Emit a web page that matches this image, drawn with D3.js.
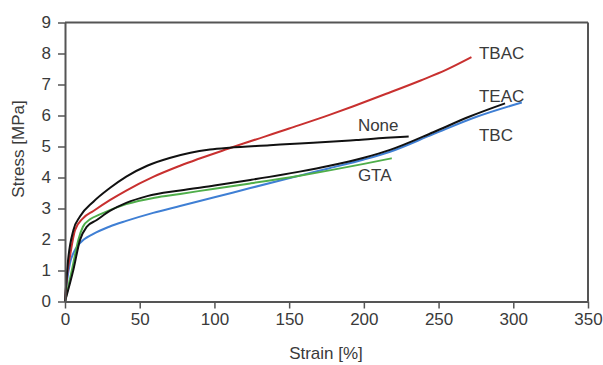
<!DOCTYPE html>
<html><head><meta charset="utf-8">
<script src="https://cdn.jsdelivr.net/npm/d3@7"></script>
<style>body{margin:0;background:#fff}svg{display:block}text{font-family:"Liberation Sans",Arial,sans-serif}</style>
</head><body>
<script>
const xTicks=[0,50,100,150,200,250,300,350];
const yTicks=[0,1,2,3,4,5,6,7,8,9];
const seriesNames=["TBC","GTA","TEAC","TBAC","None"];
const seriesColors=["#3f7fd4","#4fae4a","#111111","#c8302f","#111111"];
const tbc=[[0,0],[1.5,0.7],[3.3,1.23],[6,1.6],[10,1.88],[19,2.18],[30,2.42],[41,2.6],[59,2.86],[77,3.08],[100,3.36],[124,3.66],[157,4.06],[177,4.3],[200,4.58],[217.5,4.83],[246.5,5.4],[275,5.95],[305.7,6.42]];
const gta=[[0,0],[5,1.1],[9,2.0],[12,2.41],[17,2.66],[23,2.8],[41,3.14],[60,3.35],[77,3.47],[100,3.64],[124,3.81],[157,4.06],[177,4.23],[200,4.44],[218.7,4.62]];
const teac=[[0,0],[5.6,1.02],[10,1.98],[14.5,2.41],[21,2.62],[30,2.92],[41,3.18],[55,3.4],[77,3.58],[100,3.74],[124,3.92],[157,4.19],[177,4.38],[200,4.64],[217.5,4.89],[246.5,5.46],[270,5.95],[294.5,6.39]];
const tbac=[[0,0],[1.5,0.9],[3.3,1.45],[6.7,2.3],[12,2.68],[19,2.92],[30,3.27],[41,3.58],[59,4.02],[77,4.38],[113,4.99],[150,5.58],[177,6.02],[193,6.3],[215,6.7],[238,7.13],[255,7.47],[272,7.88]];
const none=[[0,0],[2,1.3],[5.6,2.3],[10,2.74],[19,3.22],[30,3.66],[41,4.03],[55,4.38],[70,4.63],[84,4.8],[97,4.9],[110,4.96],[137,5.04],[157,5.1],[177,5.15],[195,5.21],[215,5.28],[230,5.32]];
const seriesData=[tbc,gta,teac,tbac,none];
const labelPos=[[277,5.37,"TBC"],[196,4.08,"GTA"],[277,6.63,"TEAC"],[277,8.02,"TBAC"],[196,5.69,"None"]];

const W=603,H=365;
const svg=d3.select("body").append("svg").attr("width",W).attr("height",H);
const x=d3.scaleLinear().domain([0,350]).range([65,588]);
const y=d3.scaleLinear().domain([0,9]).range([301.5,22.5]);
const axisColor="#555";
const textColor="#3a3a3a";

svg.append("line").attr("x1",x(0)).attr("x2",x(350)).attr("y1",y(9)).attr("y2",y(9)).attr("stroke",axisColor).attr("stroke-width",2);
svg.append("line").attr("x1",x(350)).attr("x2",x(350)).attr("y1",y(9)).attr("y2",y(0)).attr("stroke",axisColor).attr("stroke-width",2);

const line=d3.line().x(d=>x(d[0])).y(d=>y(d[1])).curve(d3.curveMonotoneX);
seriesData.forEach((s,i)=>{
  svg.append("path").datum(s).attr("d",line).attr("fill","none").attr("stroke",seriesColors[i]).attr("stroke-width",2).attr("stroke-linejoin","round");
});

const xa=svg.append("g").attr("transform",`translate(0,${y(0)})`).call(d3.axisBottom(x).tickValues(xTicks).tickSize(7).tickPadding(4).tickSizeOuter(0));
const ya=svg.append("g").attr("transform",`translate(${x(0)},0)`).call(d3.axisLeft(y).tickValues(yTicks).tickSize(7).tickPadding(7).tickSizeOuter(0));
[xa,ya].forEach(g=>{
  g.select(".domain").attr("stroke",axisColor).attr("stroke-width",2);
  g.selectAll(".tick line").attr("stroke",axisColor).attr("stroke-width",1.5);
  g.selectAll(".tick text").attr("fill",textColor).style("font-size","17px");
});

labelPos.forEach(p=>{
  svg.append("text").attr("x",x(p[0])).attr("y",y(p[1])).attr("dy","0.35em").attr("fill",textColor).style("font-size","17px").text(p[2]);
});

svg.append("text").attr("x",326).attr("y",359).attr("text-anchor","middle").attr("fill",textColor).style("font-size","17px").text("Strain [%]");
svg.append("text").attr("transform","translate(24,149) rotate(-90)").attr("text-anchor","middle").attr("fill",textColor).style("font-size","17px").text("Stress [MPa]");
</script>
</body></html>
